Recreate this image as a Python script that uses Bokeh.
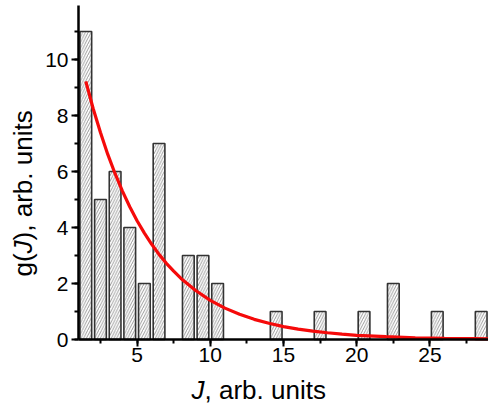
from bokeh.plotting import figure
from bokeh.models import Range1d, Label, ColumnDataSource, SingleIntervalTicker
from bokeh.embed import file_html
from bokeh.resources import INLINE
import math

# Histogram bins (centers) and counts
bin_centers = [1.5, 2.5, 3.5, 4.5, 5.5, 6.5, 7.5, 8.5, 9.5, 10.5, 11.5, 12.5, 13.5, 14.5,
               15.5, 16.5, 17.5, 18.5, 19.5, 20.5, 21.5, 22.5, 23.5, 24.5, 25.5, 26.5, 27.5, 28.5]
counts = [11, 5, 6, 4, 2, 7, 0, 3, 3, 2, 0, 0, 0, 1,
          0, 0, 1, 0, 0, 1, 0, 2, 0, 0, 1, 0, 0, 1]

# Fitted decay curve
fit_J = [1.5, 2, 2.5, 3, 3.5, 4, 4.5, 5, 5.5, 6, 6.5, 7, 7.5, 8, 9, 10, 11, 12, 13, 14,
         15, 16, 17, 18, 19, 20, 22, 24, 26, 28, 29]
fit_g = [9.22, 8.25, 7.39, 6.61, 5.92, 5.30, 4.74, 4.24, 3.80, 3.40, 3.04, 2.72, 2.44, 2.18,
         1.75, 1.40, 1.12, 0.90, 0.72, 0.58, 0.46, 0.37, 0.30, 0.24, 0.19, 0.15, 0.10, 0.06,
         0.04, 0.03, 0.02]

W, H = 488, 405
# axis geometry in pixels (frame fills the canvas; axes sit at fixed data locations)
AX_LEFT, AX_BOTTOM, AX_TOP = 78, 339, 5
XPU = (W - AX_LEFT) / 28.0   # pixels per J unit (J from 1 to 29)
YPU = 28.0                   # pixels per g unit
x_lo, x_hi = 1.0, 29.0
y_lo, y_hi = 0.0, (AX_BOTTOM - AX_TOP) / YPU

xr = Range1d(x_lo - AX_LEFT / XPU, x_hi)
yr = Range1d(-(H - AX_BOTTOM) / YPU, y_hi + AX_TOP / YPU)

p = figure(width=W, height=H, output_backend="svg", toolbar_location=None,
           x_range=xr, y_range=yr,
           min_border_left=0, min_border_right=0, min_border_top=0, min_border_bottom=0)
p.outline_line_color = None
p.xgrid.visible = False
p.ygrid.visible = False
p.background_fill_color = "white"
p.border_fill_color = "white"

src = ColumnDataSource(dict(x=[c for c, v in zip(bin_centers, counts) if v > 0],
                            top=[v for v in counts if v > 0]))
p.vbar(x="x", top="top", bottom=0, width=0.8, source=src,
       fill_color="white", line_color="#333333", line_width=1.6,
       hatch_pattern="/", hatch_color="#808080", hatch_weight=0.8, hatch_scale=5.5)

p.line(fit_J, fit_g, line_color="#f50a0a", line_width=3.2)

font = "Liberation Sans"
for ax in (p.xaxis[0], p.yaxis[0]):
    ax.axis_line_width = 2.5
    ax.axis_line_color = "black"
    ax.major_tick_line_width = 2
    ax.minor_tick_line_width = 2
    ax.major_tick_out = 7
    ax.major_tick_in = 0
    ax.minor_tick_out = 4
    ax.minor_tick_in = 0
    ax.major_label_text_font = font
    ax.major_label_text_font_size = "21px"
    ax.major_label_text_color = "black"
    ax.axis_label = None

p.xaxis.fixed_location = 0
p.xaxis.bounds = (x_lo, x_hi)
p.yaxis.fixed_location = x_lo
p.yaxis.bounds = (y_lo, y_hi)
p.xaxis.ticker = SingleIntervalTicker(interval=5, num_minor_ticks=2)
p.yaxis.ticker = SingleIntervalTicker(interval=2, num_minor_ticks=2)
p.xaxis.major_label_standoff = 1
p.yaxis.major_label_standoff = 3

def px_to_x(px):
    return xr.start + px / XPU

def py_to_y(py):
    return (AX_BOTTOM - py) / YPU

lab_size = "26px"
fs = 26.0

def lab(px, py, txt, italic=False, angle=0.0):
    p.add_layout(Label(x=px_to_x(px), y=py_to_y(py), text=txt, text_font=font,
                       text_font_style="italic" if italic else "normal",
                       text_font_size=lab_size, text_align="left",
                       text_baseline="alphabetic", angle=angle, text_color="black"))

# x axis label: "J, arb. units"
xl_x, xl_y = 191, 389
lab(xl_x, xl_y, "J", italic=True)
lab(xl_x + 0.5 * fs, xl_y, ", arb. units")

# y axis label: "g(J), arb. units" (rotated)
yl_x, yl_y = 22, 276
lab(yl_x, yl_y, "g(", angle=math.pi / 2)
lab(yl_x, yl_y - 0.889 * fs, "J", italic=True, angle=math.pi / 2)
lab(yl_x, yl_y - 1.389 * fs, "), arb. units", angle=math.pi / 2)

open("out.html", "w").write(file_html(p, INLINE))
